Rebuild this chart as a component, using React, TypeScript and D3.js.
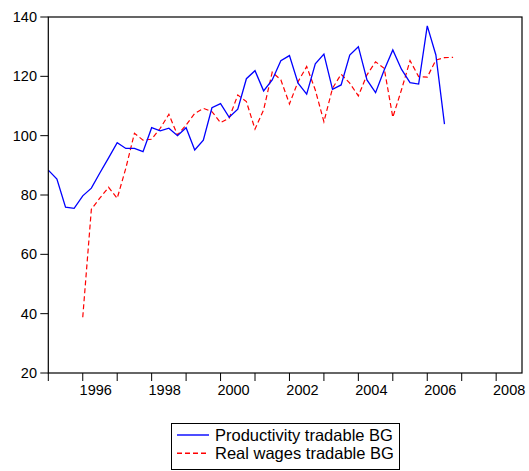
import React, { useEffect, useRef } from "react";
import * as d3 from "d3";

const startYear = 1995;
const productivity: number[] = [
  88.4, 85.4, 75.9, 75.5,
  79.7, 82.3, 87.5, 92.5,
  97.6, 95.7, 95.7, 94.6,
  102.7, 101.6, 102.5, 100.0,
  102.7, 95.2, 98.5, 109.4,
  110.8, 106.2, 108.9, 119.2,
  121.9, 115.1, 118.8, 125.3,
  127.0, 117.7, 114.0, 124.2,
  127.5, 115.6, 117.1, 127.2,
  130.0, 118.8, 114.5, 122.1,
  128.9, 122.4, 117.9, 117.4,
  137.0, 127.2, 103.9,
];
const wagesStart = 1996;
const realWages: number[] = [
  38.8, 75.2, 79.0, 82.6,
  78.9, 89.0, 100.8, 98.5,
  98.8, 102.5, 107.2, 100.2,
  103.6, 107.5, 109.2, 108.1,
  104.4, 105.9, 113.7, 111.5,
  102.2, 108.7, 121.4, 118.8,
  110.7, 118.2, 123.3, 115.4,
  104.7, 116.0, 120.7, 117.7,
  113.4, 120.5, 124.9, 122.7,
  106.2, 115.4, 125.3, 119.9,
  119.7, 125.5, 126.3, 126.4,
];
const yTicks = [20, 40, 60, 80, 100, 120, 140];
const xTickYears = d3.range(1995, 2009);
const xLabelYears = [1996, 1998, 2000, 2002, 2004, 2006, 2008];
const seriesNames = ["Productivity tradable BG", "Real wages tradable BG"];

export default function App() {
  const ref = useRef<SVGSVGElement | null>(null);
  useEffect(() => {
    const svg = d3.select(ref.current);
    svg.selectAll("*").remove();
    const left = 48.3, right = 522, top = 17, bottom = 373;
    const x = d3.scaleLinear().domain([1995, 2008.75]).range([left, right]);
    const y = d3.scaleLinear().domain([20, 140]).range([bottom, top]);
    const font = "'Liberation Sans', Arial, sans-serif";

    svg.append("rect").attr("width", 529).attr("height", 471).attr("fill", "#fff");

    const gy = svg.append("g");
    yTicks.forEach((v) => {
      gy.append("line").attr("x1", left - 8).attr("x2", left).attr("y1", y(v)).attr("y2", y(v)).attr("stroke", "#000");
      gy.append("text").attr("x", 37).attr("y", y(v)).attr("dy", "0.35em").attr("text-anchor", "end")
        .attr("font-family", font).attr("font-size", 14.5).attr("fill", "#000").text(String(v));
    });
    const gx = svg.append("g");
    xTickYears.forEach((yr) => {
      gx.append("line").attr("x1", x(yr)).attr("x2", x(yr)).attr("y1", bottom).attr("y2", bottom + 8).attr("stroke", "#000");
    });
    xLabelYears.forEach((yr) => {
      gx.append("text").attr("x", x(yr) + 13).attr("y", bottom + 22).attr("text-anchor", "middle")
        .attr("font-family", font).attr("font-size", 14.5).attr("fill", "#000").text(String(yr));
    });

    const line = d3.line<[number, number]>().x((d) => x(d[0])).y((d) => y(d[1]));
    const prodPts: [number, number][] = productivity.map((v, i) => [startYear + i / 4, v]);
    const wagePts: [number, number][] = realWages.map((v, i) => [wagesStart + i / 4, v]);

    svg.append("path").attr("d", line(wagePts) || "").attr("fill", "none").attr("stroke", "#ff0000")
      .attr("stroke-width", 1.2).attr("stroke-dasharray", "5,3");
    svg.append("path").attr("d", line(prodPts) || "").attr("fill", "none").attr("stroke", "#0000ff")
      .attr("stroke-width", 1.3);

    svg.append("rect").attr("x", left).attr("y", top).attr("width", right - left).attr("height", bottom - top)
      .attr("fill", "none").attr("stroke", "#000").attr("stroke-width", 1.2);

    const lg = svg.append("g");
    lg.append("rect").attr("x", 171.5).attr("y", 423.5).attr("width", 228).attr("height", 46)
      .attr("fill", "#fff").attr("stroke", "#000").attr("stroke-width", 1);
    const colors = ["#0000ff", "#ff0000"];
    seriesNames.forEach((name, i) => {
      const ly = 435 + i * 18.3;
      const l = lg.append("line").attr("x1", 177).attr("x2", 209).attr("y1", ly).attr("y2", ly)
        .attr("stroke", colors[i]).attr("stroke-width", 1.4);
      if (i === 1) l.attr("stroke-dasharray", "5,3");
      lg.append("text").attr("x", 215).attr("y", ly).attr("dy", "0.36em")
        .attr("font-family", font).attr("font-size", 16.5).attr("fill", "#000").text(name);
    });
  }, []);
  return (
    <svg ref={ref} width={529} height={471} style={{ position: "absolute", left: 0, top: 0, display: "block" }} />
  );
}
